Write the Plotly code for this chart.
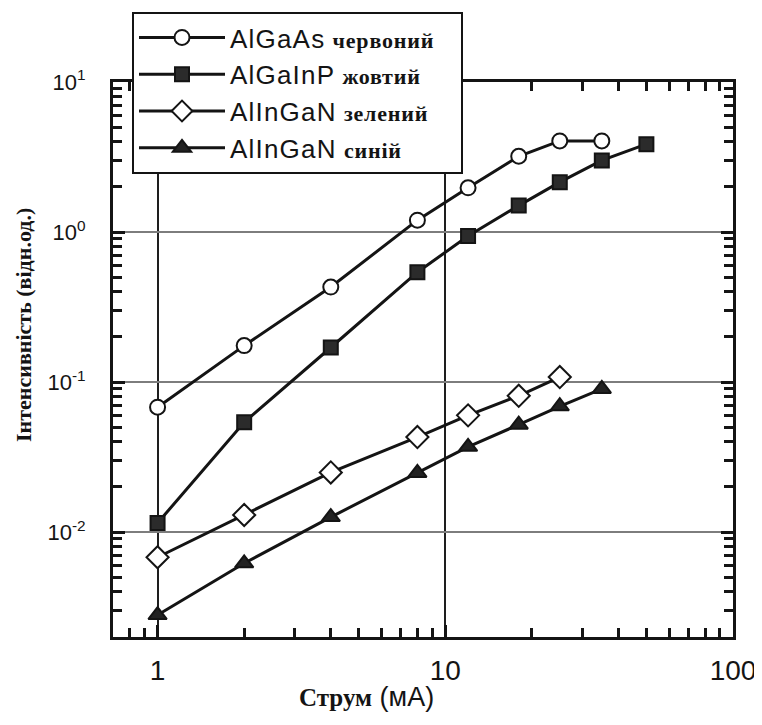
import plotly.graph_objects as go
import math

# Data
x_red = [1, 2, 4, 8, 12, 18, 25, 35]
y_red = [0.068, 0.175, 0.43, 1.2, 1.97, 3.2, 4.05, 4.05]

x_yellow = [1, 2, 4, 8, 12, 18, 25, 35, 50]
y_yellow = [0.0115, 0.054, 0.17, 0.54, 0.94, 1.5, 2.15, 3.0, 3.85]

x_green = [1, 2, 4, 8, 12, 18, 25]
y_green = [0.0068, 0.013, 0.025, 0.043, 0.06, 0.081, 0.108]

x_blue = [1, 2, 4, 8, 12, 18, 25, 35]
y_blue = [0.0028, 0.0062, 0.0126, 0.0248, 0.037, 0.052, 0.069, 0.09]

x_ticks = [1, 10, 100]
x_ticktext = ["1", "10", "100"]
y_ticks = [0.01, 0.1, 1, 10]
y_ticktext = ["10<sup>-2</sup>", "10<sup>-1</sup>", "10<sup>0</sup>", "10<sup>1</sup>"]

materials = ["AlGaAs", "AlGaInP", "AlInGaN", "AlInGaN"]
colours_ua = ["червоний", "жовтий", "зелений", "синій"]

SANS = "letter-spacing:1.2px"
SER = "font-family:'Liberation Serif',serif;font-weight:bold;font-size:22px;letter-spacing:0.8px"
names = [f"<span style=\"{SANS}\">{m}</span> <span style=\"{SER}\">{c}</span>"
         for m, c in zip(materials, colours_ua)]
names[0] += "&nbsp;&nbsp;&nbsp;"

x_title = ("<span style=\"font-family:'Liberation Serif',serif;font-weight:bold;font-size:25px\">Струм</span>"
           " (мА)")
y_title = "Інтенсивність (відн.од.)"

INK = "#141414"
series = [
    (x_red, y_red, "circle", "white", 15),
    (x_yellow, y_yellow, "square", "#2b2b2b", 14),
    (x_green, y_green, "diamond", "white", 17),
    (x_blue, y_blue, "triangle-up", "#222222", 16),
]

fig = go.Figure()
for i, ((xs, ys, sym, fill, size), nm) in enumerate(zip(series, names)):
    fig.add_trace(go.Scatter(
        x=xs, y=ys, mode="lines+markers", name=nm, legendgroup=f"g{i}",
        line=dict(color=INK, width=3),
        marker=dict(symbol=sym, size=size, color=fill,
                    line=dict(color=INK, width=2)),
    ))

W, H = 754, 717
L, R, T, B = 105, 29, 74, 88
pw, ph = W - L - R, H - T - B


def px(xp):  # page x -> paper
    return (xp - 8 - L) / pw


def py(yp):  # page y -> paper
    return (H - B - (yp - 8)) / ph


xr = [math.log10(0.7), 2]
yr = [math.log10(0.002), 1]

# minor tick positions (2..9 in every decade)
x_minor = [m * d for d in (0.1, 1, 10) for m in range(2, 10)]
y_minor = [m * d for d in (0.001, 0.01, 0.1, 1) for m in range(2, 10)]

# helper traces that carry the extra (minor) tick axes (no visible marks)
for xa, ya in (("x2", "y2"), ("x3", "y3")):
    fig.add_trace(go.Scatter(x=[], y=[], xaxis=xa, yaxis=ya, showlegend=False,
                             hoverinfo="skip"))


def tick_axis(rng, vals, side, overlay, anchor, length):
    return dict(type="log", range=rng, overlaying=overlay, side=side, anchor=anchor,
                tickmode="array", tickvals=vals, showticklabels=False,
                ticks="inside", ticklen=length, tickwidth=2.5, tickcolor=INK,
                showgrid=False, zeroline=False, showline=False)


fig.update_layout(
    width=W, height=H,
    margin=dict(l=L, r=R, t=T, b=B, autoexpand=False),
    paper_bgcolor="white", plot_bgcolor="white",
    font=dict(family="Liberation Sans, Arial", color=INK, size=26),
    legend=dict(
        x=px(132), y=py(12), xanchor="left", yanchor="top",
        bgcolor="white", bordercolor=INK, borderwidth=2,
        font=dict(family="Liberation Sans, Arial", size=26, color=INK),
        itemwidth=86, tracegroupgap=0, traceorder="grouped",
    ),
    xaxis=dict(
        type="log", range=xr,
        tickmode="array", tickvals=x_ticks, ticktext=x_ticktext,
        ticks="inside", ticklen=12, tickwidth=3, tickcolor=INK,
        showline=True, linecolor=INK, linewidth=3, mirror="allticks",
        showgrid=True, gridcolor="#1e1e1e", gridwidth=1.5,
        zeroline=False, automargin=False,
        tickfont=dict(size=28, family="Liberation Sans, Arial"),
        ticklabelstandoff=6,
    ),
    yaxis=dict(
        type="log", range=yr,
        tickmode="array", tickvals=y_ticks, ticktext=y_ticktext,
        ticks="inside", ticklen=12, tickwidth=3, tickcolor=INK,
        showline=True, linecolor=INK, linewidth=3, mirror="allticks",
        showgrid=True, gridcolor="#7d7d7d", gridwidth=2,
        zeroline=False, automargin=False,
        tickfont=dict(size=22, family="Liberation Sans, Arial"),
        ticklabelstandoff=20,
    ),
    xaxis2=tick_axis(xr, x_minor, "bottom", "x", "y", 9),
    yaxis2=tick_axis(yr, y_minor, "left", "y", "x", 9),
    xaxis3=tick_axis(xr, x_minor, "top", "x", "y", 9),
    yaxis3=tick_axis(yr, y_minor, "right", "y", "x", 9),
    annotations=[
        dict(text=y_title, xref="paper", yref="paper", x=px(23), y=py(325),
             xanchor="center", yanchor="middle", textangle=-90, showarrow=False,
             font=dict(family="Liberation Serif, serif", size=22, weight="bold",
                       color=INK)),
        dict(text=x_title, xref="paper", yref="paper", x=px(366), y=py(697),
             xanchor="center", yanchor="middle", showarrow=False,
             font=dict(family="Liberation Sans, Arial", size=27, color=INK)),
    ],
)

fig.write_html("out.html")
